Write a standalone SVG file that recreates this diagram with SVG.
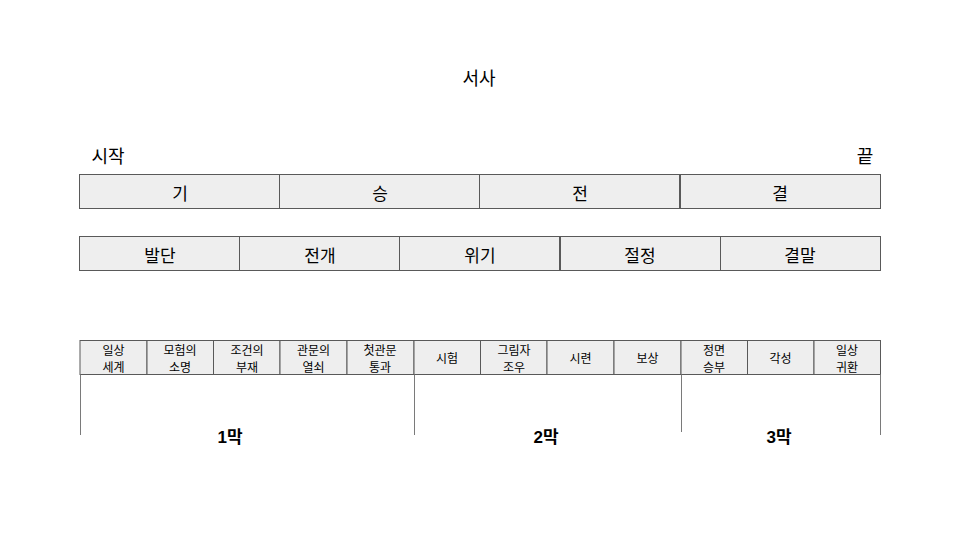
<svg xmlns="http://www.w3.org/2000/svg" width="960" height="540" viewBox="0 0 960 540">
<style>
.cell{fill:#eeeeee;stroke:#595959;stroke-width:1}
.t{font-family:"Noto Sans CJK KR","Noto Sans",sans-serif;fill:#000;text-anchor:middle;dominant-baseline:central}
.big{font-size:18px}
.mid{font-size:17px}
.sm{font-size:12px}
.act{font-family:"Liberation Sans","Noto Sans CJK KR",sans-serif;font-size:17px;font-weight:bold}
.ln{stroke:#7a7a7a;stroke-width:1;fill:none}
</style>
<rect width="960" height="540" fill="#ffffff"/>
<g id="title"><text class="t big" x="479" y="77">서사</text></g>
<g id="start"><text class="t big" x="108" y="155">시작</text></g>
<g id="end"><text class="t big" x="865" y="155">끝</text></g>
<g id="row1">
<g id="r1-1"><rect class="cell" x="79.5" y="174.5" width="200" height="34"/><text class="t mid" x="180" y="192">기</text></g>
<g id="r1-2"><rect class="cell" x="279.5" y="174.5" width="200" height="34"/><text class="t mid" x="380" y="192">승</text></g>
<g id="r1-3"><rect class="cell" x="479.5" y="174.5" width="200" height="34"/><text class="t mid" x="580" y="192">전</text></g>
<g id="r1-4"><rect class="cell" x="680.5" y="174.5" width="200" height="34"/><text class="t mid" x="780" y="192">결</text></g>
</g>
<g id="row2">
<g id="r2-1"><rect class="cell" x="79.5" y="236.5" width="160" height="34"/><text class="t mid" x="160" y="254">발단</text></g>
<g id="r2-2"><rect class="cell" x="239.5" y="236.5" width="160" height="34"/><text class="t mid" x="320" y="254">전개</text></g>
<g id="r2-3"><rect class="cell" x="399.5" y="236.5" width="160" height="34"/><text class="t mid" x="480" y="254">위기</text></g>
<g id="r2-4"><rect class="cell" x="560.5" y="236.5" width="160" height="34"/><text class="t mid" x="640" y="254">절정</text></g>
<g id="r2-5"><rect class="cell" x="720.5" y="236.5" width="160" height="34"/><text class="t mid" x="800" y="254">결말</text></g>
</g>
<g id="row3">
<g id="s1"><rect class="cell" x="80" y="340.5" width="67" height="34"/><text class="t sm" x="113.5" y="349.5">일상</text><text class="t sm" x="113.5" y="366.5">세계</text></g>
<g id="s2"><rect class="cell" x="147" y="340.5" width="66.5" height="34"/><text class="t sm" x="180" y="349.5">모험의</text><text class="t sm" x="180" y="366.5">소명</text></g>
<g id="s3"><rect class="cell" x="213.5" y="340.5" width="66.5" height="34"/><text class="t sm" x="247" y="349.5">조건의</text><text class="t sm" x="247" y="366.5">부재</text></g>
<g id="s4"><rect class="cell" x="280" y="340.5" width="67" height="34"/><text class="t sm" x="313.5" y="349.5">관문의</text><text class="t sm" x="313.5" y="366.5">열쇠</text></g>
<g id="s5"><rect class="cell" x="347" y="340.5" width="67" height="34"/><text class="t sm" x="380" y="349.5">첫관문</text><text class="t sm" x="380" y="366.5">통과</text></g>
<g id="s6"><rect class="cell" x="414" y="340.5" width="66.5" height="34"/><text class="t sm" x="447" y="357">시험</text></g>
<g id="s7"><rect class="cell" x="480.5" y="340.5" width="66.5" height="34"/><text class="t sm" x="514" y="349.5">그림자</text><text class="t sm" x="514" y="366.5">조우</text></g>
<g id="s8"><rect class="cell" x="547" y="340.5" width="67" height="34"/><text class="t sm" x="580.5" y="357">시련</text></g>
<g id="s9"><rect class="cell" x="614" y="340.5" width="67" height="34"/><text class="t sm" x="647.5" y="357">보상</text></g>
<g id="s10"><rect class="cell" x="681" y="340.5" width="66.5" height="34"/><text class="t sm" x="714" y="349.5">정면</text><text class="t sm" x="714" y="366.5">승부</text></g>
<g id="s11"><rect class="cell" x="747.5" y="340.5" width="66.5" height="34"/><text class="t sm" x="780.5" y="357">각성</text></g>
<g id="s12"><rect class="cell" x="814" y="340.5" width="66.5" height="34"/><text class="t sm" x="847" y="349.5">일상</text><text class="t sm" x="847" y="366.5">귀환</text></g>
</g>
<g id="connectors">
<line class="ln" x1="80.5" y1="374.5" x2="80.5" y2="435"/>
<line class="ln" x1="414.5" y1="374.5" x2="414.5" y2="435"/>
<line class="ln" x1="681.5" y1="374.5" x2="681.5" y2="432"/>
<line class="ln" x1="880.5" y1="374.5" x2="880.5" y2="435"/>
</g>
<g id="acts">
<text class="t act" x="230" y="437">1막</text>
<text class="t act" x="546" y="437">2막</text>
<text class="t act" x="779" y="437">3막</text>
</g>
</svg>
